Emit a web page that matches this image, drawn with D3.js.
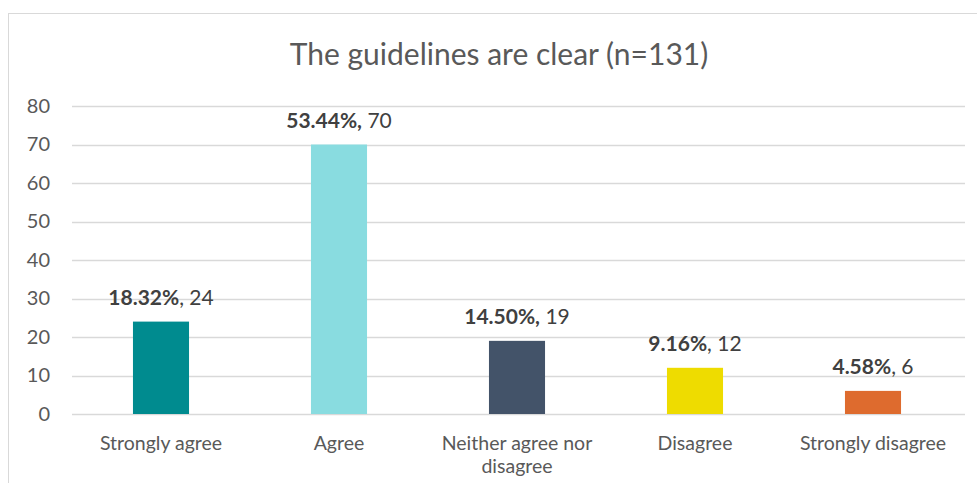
<!DOCTYPE html>
<html>
<head>
<meta charset="utf-8">
<script src="https://cdn.jsdelivr.net/npm/d3@7"></script>
<style>
  html, body { margin: 0; padding: 0; background: #fff; }
  svg { display: block; font-family: Lato, "Open Sans", sans-serif; }
</style>
</head>
<body>
<svg id="chart" width="977" height="483"></svg>
<script>
// Survey responses: "The guidelines are clear"
const categories = ["Strongly agree", "Agree", "Neither agree nor disagree", "Disagree", "Strongly disagree"];
const categoryLines = [["Strongly agree"], ["Agree"], ["Neither agree nor", "disagree"], ["Disagree"], ["Strongly disagree"]];
const counts = [24, 70, 19, 12, 6];
const percentLabels = ["18.32%", "53.44%", "14.50%", "9.16%", "4.58%"];
const percentSuffix = ["", ",", ",", "", ""]; // comma bolded on some labels
const barColors = ["#008B8F", "#89DCE0", "#435369", "#EEDC00", "#DE6B2E"];
const yTicks = [0, 10, 20, 30, 40, 50, 60, 70, 80];
const titleText = "The guidelines are clear (n=131)";

const svg = d3.select("#chart");

// outer frame
svg.append("rect")
  .attr("x", 8.5).attr("y", 13.5)
  .attr("width", 990).attr("height", 500)
  .attr("fill", "none").attr("stroke", "#D9D9D9").attr("stroke-width", 1);

const plot = { left: 72, right: 962, top: 106, bottom: 414 };

const x = d3.scaleBand()
  .domain(categories)
  .range([plot.left, plot.right])
  .paddingInner(0.685)
  .paddingOuter(0.3425);

const y = d3.scaleLinear()
  .domain([0, 80])
  .range([plot.bottom, plot.top]);

// title
svg.append("text")
  .attr("x", 499).attr("y", 65)
  .attr("text-anchor", "middle")
  .attr("fill", "#595959")
  .style("font-size", "30px")
  .text(titleText);

// gridlines
svg.append("g")
  .selectAll("line")
  .data(yTicks)
  .join("line")
  .attr("x1", plot.left).attr("x2", 965)
  .attr("y1", d => Math.round(y(d)) + 0.5)
  .attr("y2", d => Math.round(y(d)) + 0.5)
  .attr("stroke", "#D9D9D9")
  .attr("stroke-width", 1.3);

// y axis labels
const yAxis = d3.axisLeft(y).tickValues(yTicks).tickSize(0).tickPadding(0);
const gy = svg.append("g").attr("transform", `translate(50,0)`).call(yAxis);
gy.select(".domain").remove();
gy.selectAll("text")
  .attr("fill", "#595959")
  .style("font-size", "20px")
  .style("font-family", "Lato, 'Open Sans', sans-serif");

// bars
svg.append("g")
  .selectAll("rect")
  .data(categories)
  .join("rect")
  .attr("x", d => x(d))
  .attr("width", x.bandwidth())
  .attr("y", (d, i) => y(counts[i]))
  .attr("height", (d, i) => y(0) - y(counts[i]))
  .attr("fill", (d, i) => barColors[i]);

// value labels
const labels = svg.append("g")
  .selectAll("text")
  .data(categories)
  .join("text")
  .attr("x", d => x(d) + x.bandwidth() / 2)
  .attr("y", (d, i) => y(counts[i]) - 17)
  .attr("text-anchor", "middle")
  .attr("fill", "#404040")
  .style("font-size", "21px");
labels.append("tspan")
  .style("font-weight", "bold")
  .text((d, i) => percentLabels[i] + percentSuffix[i]);
labels.append("tspan")
  .text((d, i) => (percentSuffix[i] ? " " : ", ") + counts[i]);

// x axis category labels
const xl = svg.append("g")
  .selectAll("text")
  .data(categories)
  .join("text")
  .attr("x", d => x(d) + x.bandwidth() / 2)
  .attr("y", 450)
  .attr("text-anchor", "middle")
  .attr("fill", "#595959")
  .style("font-size", "19.5px");
xl.selectAll("tspan")
  .data((d, i) => categoryLines[i])
  .join("tspan")
  .attr("x", function () { return d3.select(this.parentNode).attr("x"); })
  .attr("dy", (d, j) => j === 0 ? 0 : 23)
  .text(d => d);
</script>
</body>
</html>
